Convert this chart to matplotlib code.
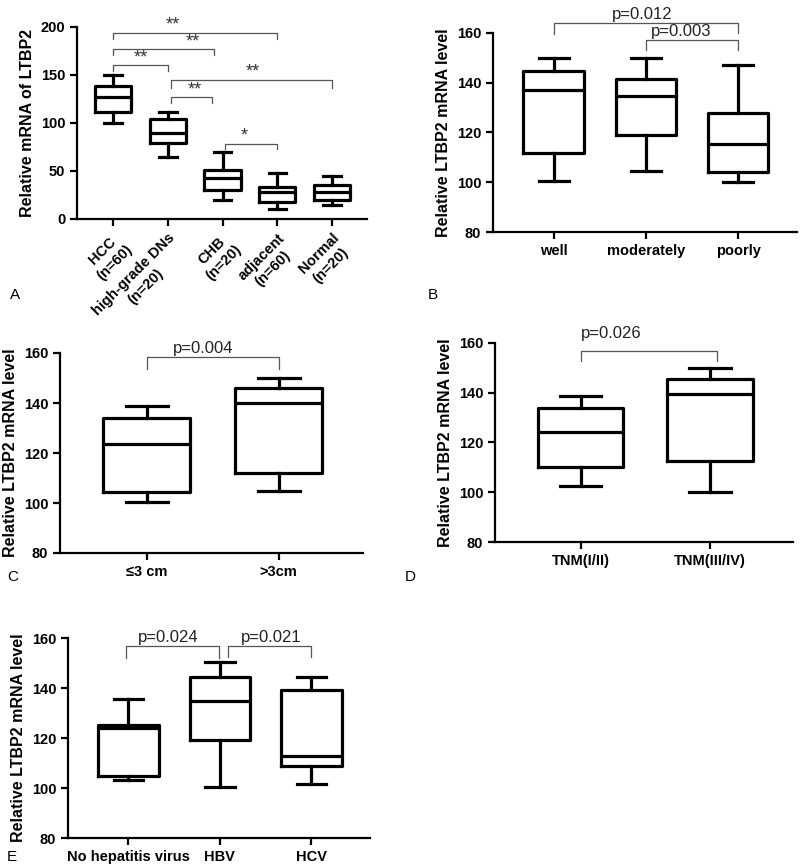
import matplotlib
matplotlib.use("Agg")
import matplotlib.pyplot as plt

plt.rcParams['font.family'] = ['Liberation Sans', 'DejaVu Sans']

# ---------------- data ----------------
# Panel A
a_labels = ["HCC\n(n=60)", "high-grade DNs\n(n=20)", "CHB\n(n=20)", "adjacent\n(n=60)", "Normal\n(n=20)"]
a_whislo = [100, 65, 19.5, 10, 15]
a_q1 = [111, 79, 30, 18, 20]
a_med = [127, 90, 43, 28, 28]
a_q3 = [139, 104, 51, 33, 35]
a_whishi = [150, 111.5, 70, 48, 45]
# brackets: (x1, x2, y, drop_left, drop_right, text, text_x)
a_brackets = [
    (1, 4, 194, 188, 188, "**", 2.1),
    (1, 2.85, 177, 171, 171, "**", 2.45),
    (1, 2, 160, 154.5, 154.5, "**", 1.5),
    (2.05, 5, 145, 136, 136, "**", 3.55),
    (2.05, 2.8, 127, 121, 121, "**", 2.5),
    (3.05, 4, 78.5, 73, 73, "*", 3.4),
]

# Panel B
b_labels = ["well", "moderately", "poorly"]
b_whislo = [100.7, 104.7, 100.2]
b_q1 = [111.7, 119.1, 104.2]
b_med = [137, 134.6, 115.4]
b_q3 = [144.6, 141.4, 128]
b_whishi = [150, 150, 147]
b_brackets = [
    (1, 3, 164.1, 159.7, 160.0, "p=0.012", 1.96),
    (2, 3, 157.3, 153.3, 153.3, "p=0.003", 2.38),
]

# Panel C
c_labels = ["\u22643 cm", ">3cm"]
c_whislo = [100.4, 104.9]
c_q1 = [104.5, 112.1]
c_med = [123.7, 140]
c_q3 = [133.9, 146]
c_whishi = [138.7, 150.1]
c_brackets = [(1, 2, 158.5, 153.6, 153.6, "p=0.004", 1.43)]

# Panel D
d_labels = ["TNM(I/II)", "TNM(III/IV)"]
d_whislo = [102.4, 100]
d_q1 = [110, 112.7]
d_med = [124.2, 139.6]
d_q3 = [133.9, 145.4]
d_whishi = [138.6, 150]
d_brackets = [(1, 2.05, 156.9, 152.6, 152.6, "p=0.026", 1.24)]

# Panel E
e_labels = ["No hepatitis virus", "HBV", "HCV"]
e_whislo = [103.3, 100.4, 101.7]
e_q1 = [104.7, 119.3, 108.7]
e_med = [124, 134.7, 112.9]
e_q3 = [125.3, 144.4, 139.3]
e_whishi = [135.7, 150.4, 144.4]
e_brackets = [
    (0.97, 1.99, 156.9, 152, 152, "p=0.024", 1.43),
    (2.09, 3, 156.9, 152.3, 152.3, "p=0.021", 2.56),
]

W, H = 800, 867
fig = plt.figure(figsize=(8, 8.67), dpi=100)


def px_axes(l, r, t, b):
    return fig.add_axes([l / W, 1 - b / H, (r - l) / W, (b - t) / H])


def draw_box(ax, labels, wlo, q1, med, q3, whi, ylim, yticks, ylabel,
             brackets, star=False, rot=False):
    stats = []
    for i in range(len(labels)):
        stats.append(dict(whislo=wlo[i], q1=q1[i], med=med[i], q3=q3[i],
                          whishi=whi[i], fliers=[], label=labels[i]))
    pos = list(range(1, len(labels) + 1))
    lw = 2.3
    ax.bxp(stats, positions=pos, widths=0.66, capwidths=0.32, showfliers=False,
           boxprops=dict(color='black', linewidth=lw),
           medianprops=dict(color='black', linewidth=lw),
           whiskerprops=dict(color='black', linewidth=lw),
           capprops=dict(color='black', linewidth=lw))
    n = len(labels)
    ax.set_xlim(1 - 0.66, n + 0.64)
    ax.set_ylim(*ylim)
    ax.set_yticks(yticks)
    for s in ['top', 'right']:
        ax.spines[s].set_visible(False)
    for s in ['left', 'bottom']:
        ax.spines[s].set_linewidth(1.6)
    ax.tick_params(axis='both', width=1.6, length=5, labelsize=10.5)
    for t in ax.get_yticklabels():
        t.set_fontweight('bold')
    ax.set_xticks(pos)
    if rot:
        ax.set_xticklabels(labels, rotation=45, ha='right', va='top',
                           rotation_mode='anchor', multialignment='center',
                           fontweight='bold', fontsize=10.5, linespacing=1.25)
    else:
        ax.set_xticklabels(labels, fontweight='bold', fontsize=10.5)
    ax.set_ylabel(ylabel, fontweight='bold', fontsize=11.5)
    for (x1, x2, y, dl, dr, txt, tx) in brackets:
        ax.plot([x1, x1, x2, x2], [dl, y, y, dr], color='#555555', lw=0.9,
                clip_on=False)
        if star:
            ax.text(tx, y - 1, txt, ha='center', va='bottom',
                    fontsize=13, color='#333333', clip_on=False)
        else:
            ax.text(tx, y + 0.3, txt, ha='center', va='bottom', fontsize=12,
                    color='#222222', clip_on=False)


axA = px_axes(77, 367, 27, 219)
draw_box(axA, a_labels, a_whislo, a_q1, a_med, a_q3, a_whishi, (0, 200),
         [0, 50, 100, 150, 200], "Relative mRNA of LTBP2", a_brackets,
         star=True, rot=True)

axB = px_axes(493, 797, 33, 232)
draw_box(axB, b_labels, b_whislo, b_q1, b_med, b_q3, b_whishi, (80, 160),
         [80, 100, 120, 140, 160], "Relative LTBP2 mRNA level", b_brackets)

axC = px_axes(60, 363, 353, 553)
draw_box(axC, c_labels, c_whislo, c_q1, c_med, c_q3, c_whishi, (80, 160),
         [80, 100, 120, 140, 160], "Relative LTBP2 mRNA level", c_brackets)

axD = px_axes(495, 793, 343, 542)
draw_box(axD, d_labels, d_whislo, d_q1, d_med, d_q3, d_whishi, (80, 160),
         [80, 100, 120, 140, 160], "Relative LTBP2 mRNA level", d_brackets)
axD.texts[-1].set_position((1.24, 161.0))

axE = px_axes(68, 370, 638, 838)
draw_box(axE, e_labels, e_whislo, e_q1, e_med, e_q3, e_whishi, (80, 160),
         [80, 100, 120, 140, 160], "Relative LTBP2 mRNA level", e_brackets)

for letter, x, y in [("A", 10, 295), ("B", 428, 295), ("C", 7, 577),
                     ("D", 405, 577), ("E", 7, 857)]:
    fig.text(x / W, 1 - y / H, letter, fontsize=11, ha='left', va='center')

fig.savefig("out.png", dpi=100)
